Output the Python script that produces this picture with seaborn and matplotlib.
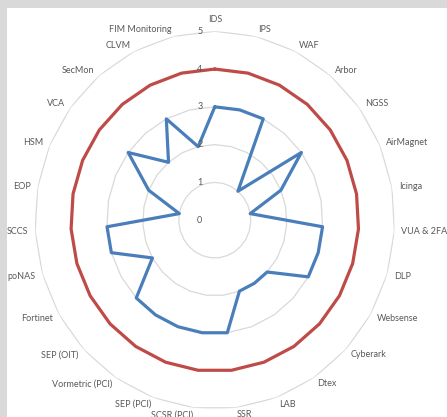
import numpy as np
import pandas as pd
import matplotlib
matplotlib.use("Agg")
import matplotlib.pyplot as plt
from matplotlib.patches import Rectangle
from matplotlib.transforms import offset_copy
import seaborn as sns

# Categories, clockwise from the top
categories = ['IDS', 'IPS', 'WAF', 'Arbor', 'NGSS', 'AirMagnet', 'Icinga', 'VUA & 2FA',
              'DLP', 'Websense', 'Cyberark', 'Dtex', 'LAB', 'SSR', 'SCSR (PCI)',
              'SEP (PCI)', 'Vormetric (PCI)', 'SEP (OIT)', 'Fortinet', 'poNAS', 'SCCS',
              'EOP', 'HSM', 'VCA', 'SecMon', 'CLVM', 'FIM Monitoring']
current_score = [3, 3, 3, 1, 3, 2, 1, 3, 3, 3, 2, 2, 2, 3, 3, 3, 3, 3, 2, 3, 3, 1, 2, 3, 2, 3, 2]
target_score = [4] * len(categories)
radial_ticks = [0, 1, 2, 3, 4, 5]

sns.set_theme(style="white")
plt.rcParams['font.family'] = ['Lato', 'DejaVu Sans']

n = len(categories)
theta = np.linspace(0, 2 * np.pi, n, endpoint=False)


def closed_frame(values):
    # repeat the first point at 2*pi so the line closes
    return pd.DataFrame({'theta': np.append(theta, 2 * np.pi),
                         'score': list(values) + [values[0]]})


fig = plt.figure(figsize=(4.47, 4.17), dpi=100)
fig.patch.set_facecolor('#d9d9d9')
fig.add_artist(Rectangle((7 / 447, 0), 1, (417 - 8) / 417, transform=fig.transFigure,
                         facecolor='white', edgecolor='none', zorder=0))

ax = fig.add_axes([0.078, 0.019, 0.805, 0.906], projection='polar')
ax.set_aspect('auto')
ax.set_facecolor('none')
ax.set_theta_zero_location('N')
ax.set_theta_direction(-1)
ax.grid(False)
ax.spines['polar'].set_visible(False)
ax.set_xticks([])
ax.set_yticks([])

# polygon gridlines like the spreadsheet radar
for r in radial_ticks[1:]:
    ax.plot(np.append(theta, 2 * np.pi), [r] * (n + 1), color='#d9d9d9', lw=0.9, zorder=1)

sns.lineplot(data=closed_frame(target_score), x='theta', y='score', ax=ax,
             color='#be4b48', lw=2.3, zorder=3)
sns.lineplot(data=closed_frame(current_score), x='theta', y='score', ax=ax,
             color='#4a7ebb', lw=2.3, zorder=4)
ax.set_xlabel('')
ax.set_ylabel('')
ax.set_ylim(0, 5)

# radial value labels just left of the top axis
lbl_tr = offset_copy(ax.transData, fig=fig, x=-15, y=0, units='dots')
for v in radial_ticks:
    ax.text(0, v, str(v), transform=lbl_tr, ha='center', va='center',
            fontsize=6.5, color='#595959', zorder=5)

# category labels around the outer ring
for ang, name in zip(theta, categories):
    s, c = np.sin(ang), np.cos(ang)
    ha = 'left' if s > 0.05 else ('right' if s < -0.05 else 'center')
    va = 'bottom' if c > 0.99 else 'center'
    tr = offset_copy(ax.transData, fig=fig, x=7 * s, y=7 * c, units='dots')
    ax.text(ang, 5, name, transform=tr, ha=ha, va=va, fontsize=6.5,
            color='#595959', clip_on=False)

plt.savefig('out.png', dpi=100)
